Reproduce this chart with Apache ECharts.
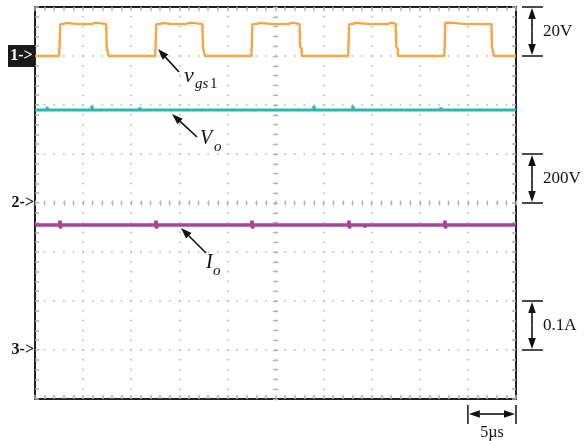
<!DOCTYPE html>
<html><head><meta charset="utf-8">
<script src="https://cdn.jsdelivr.net/npm/echarts@6/dist/echarts.min.js"></script>
<style>html,body{margin:0;padding:0;background:#fff}#c{width:585px;height:441px}</style>
</head><body><div id="c"></div>
<script>
// Time axis: 10 divisions of 5 µs; vertical: 8 divisions
const timeRange = [0, 50];
const timeStep = 5;
const divRange = [-4, 4];
// channel settings (units per division, ground offset in divisions)
const ch1 = {scale: 20, offset: 3};
const ch2 = {scale: 200, offset: 0};
const ch3 = {scale: 0.1, offset: -3};
const channelLabels = ['1->', '2->', '3->'];
const scaleLabels = ['20V', '200V', '0.1A'];
const timeLabel = '5\u00b5s';

// v_gs1 (V) vs time (µs)
const vgsData = [
 [0,0],[1.5,0],[1.55,0.4],[1.65,0],[2.5,0],[2.58,6],[2.62,13],[2.9,13],[2.95,13.5],[3.3,13.5],[3.35,13],[4.4,13],[4.45,13.5],[4.55,13],[5.0,13],[5.05,13.5],[5.15,13],[5.9,13],[5.95,13.6],[6.3,13.6],[6.35,13],[7.4,13],[7.45,4],[7.6,3.4],[7.65,0],[9.0,0],[9.05,0.4],[9.15,0],[11.2,0],[11.25,0.4],[11.35,0],[12.5,0],
 [12.55,6],[12.6,13],[12.9,13],[12.95,13.5],[13.4,13.5],[13.45,13],[14.2,13],[14.25,13.5],[14.35,13],[15.6,13],[15.65,13.6],[16.2,13.6],[16.25,13],[17.4,13],[17.45,4],[17.6,3.2],[17.65,0],[19.6,0],[19.65,0.4],[19.75,0],[21.8,0],[21.85,0.4],[21.95,0],[22.5,0],
 [22.55,6],[22.6,13],[23.0,13],[23.05,13.5],[23.4,13.5],[23.45,13],[24.6,13],[24.65,13.5],[24.75,13],[26.3,13],[26.35,13.6],[26.8,13.6],[26.85,13],[27.5,13],[27.55,4],[27.7,3],[27.75,0],[29.8,0],[29.85,0.4],[29.95,0],[32.55,0],
 [32.6,6],[32.65,13],[33.0,13],[33.05,13.5],[33.3,13.5],[33.35,13],[34.9,13],[34.95,13.5],[35.05,13],[35.6,13],[35.65,13.5],[35.75,13],[36.6,13],[36.65,13.6],[37.1,13.6],[37.15,13],[37.5,13],[37.55,4],[37.7,3],[37.75,0],[39.3,0],[39.35,0.4],[39.45,0],[42.55,0],
 [42.6,6],[42.65,13.6],[43.3,13.6],[43.35,13],[44.6,13],[44.65,13.5],[44.75,13],[45.4,13],[45.45,13.5],[45.55,13],[46.4,13],[46.45,13.5],[46.55,13],[47.45,13],[47.5,4],[47.65,3.3],[47.7,0],[48.6,0],[48.65,0.5],[48.75,0],[50,0]
];
// V_o (V)
const voData = [
 [0,380],[1.2,380],[1.25,392],[1.3,380],[5.87,380],[5.92,396],[5.97,380],[9.5,380],[9.56,388],[9.62,380],[10.35,380],[10.4,386],[10.45,380],[10.85,380],[10.9,390],[10.95,380],
 [20.75,380],[20.8,372],[20.85,380],[22.3,380],[22.35,372],[22.4,380],[28.35,380],[28.4,388],[28.45,380],[28.95,380],[29.0,396],[29.05,380],[33.0,380],[33.05,396],[33.1,380],
 [42.15,380],[42.2,390],[42.25,380],[48.6,380],[48.65,372],[48.7,380],[50,380]
];
// I_o (A)
const ioData = [
 [0,0.255],[2.55,0.255],[2.6,0.264],[2.65,0.248],[2.7,0.255],[7.5,0.255],[7.55,0.251],[7.6,0.255],
 [12.53,0.255],[12.58,0.264],[12.63,0.248],[12.68,0.255],[17.5,0.255],[17.55,0.252],[17.6,0.255],
 [22.51,0.255],[22.56,0.264],[22.61,0.248],[22.66,0.255],[27.6,0.255],[27.65,0.251],[27.7,0.255],
 [32.59,0.255],[32.64,0.264],[32.69,0.248],[32.74,0.255],[34.25,0.255],[34.3,0.25],[34.35,0.255],
 [42.57,0.255],[42.62,0.264],[42.67,0.248],[42.72,0.255],[47.6,0.255],[47.65,0.251],[47.7,0.255],[50,0.255]
];

const toDiv = (data, ch) => data.map(p => [p[0], p[1] / ch.scale + ch.offset]);

const G = {left: 35, top: 7, width: 481, height: 392};
const tickCol = '#b0b0b0';
const font = 'Liberation Serif';

function xAx(o) {
  return Object.assign({
    type: 'value', min: timeRange[0], max: timeRange[1], interval: timeStep,
    axisLabel: {show: false},
    axisLine: {show: true, onZero: false, lineStyle: {color: '#222', width: 2}},
    axisTick: {show: true, inside: true, length: 4, lineStyle: {color: tickCol, width: 1.5}},
    minorTick: {show: true, splitNumber: 5, length: 4, lineStyle: {color: tickCol, width: 1.5}},
    splitLine: {show: false}
  }, o);
}
function yAx(o) {
  return Object.assign({
    type: 'value', min: divRange[0], max: divRange[1], interval: 1,
    axisLabel: {show: false},
    axisLine: {show: true, onZero: false, lineStyle: {color: '#222', width: 2}},
    axisTick: {show: true, inside: true, length: 4, lineStyle: {color: tickCol, width: 1.5}},
    minorTick: {show: true, splitNumber: 5, length: 4, lineStyle: {color: tickCol, width: 1.5}},
    splitLine: {show: false}
  }, o);
}
const noLine = {show: false, onZero: false};
const cTick = (inside) => ({show: true, inside, length: 2.5, lineStyle: {color: tickCol, width: 1.3}});
const cMinor = {show: true, splitNumber: 5, length: 2.5, lineStyle: {color: tickCol, width: 1.3}};

const chart = echarts.init(document.getElementById('c'), null, {renderer: 'canvas'});

function arrow(x1, y1, x2, y2) {
  const dx = x2 - x1, dy = y2 - y1, L = Math.hypot(dx, dy), ux = dx / L, uy = dy / L;
  const hl = 11, hw = 3.8;
  const bx = x2 - ux * hl, by = y2 - uy * hl;
  return [
    {type: 'line', shape: {x1, y1, x2: bx, y2: by}, style: {stroke: '#111', lineWidth: 1.6}, z: 10},
    {type: 'polygon', shape: {points: [[x2, y2], [bx - uy * hw, by + ux * hw], [bx + uy * hw, by - ux * hw]]}, style: {fill: '#111'}, z: 10}
  ];
}
function txt(x, y, s, size, o) {
  return {type: 'text', x, y, z: 10, style: Object.assign({text: s, fontFamily: font, fontSize: size, fill: '#111', align: 'left', verticalAlign: 'middle'}, o || {})};
}

chart.setOption({
  animation: false,
  backgroundColor: '#fff',
  grid: Object.assign({outerBoundsMode: 'none', containLabel: false}, G),
  xAxis: [
    xAx({position: 'bottom', splitLine: {show: true, lineStyle: {color: '#b8b8b8', width: 1.6, type: [1.6, 8.2], dashOffset: 0.8}}}),
    xAx({position: 'top'}),
    xAx({position: 'bottom', offset: -G.height / 2, axisLine: noLine, axisTick: cTick(true), minorTick: cMinor}),
    xAx({position: 'bottom', offset: -G.height / 2, axisLine: noLine, axisTick: cTick(false), minorTick: cMinor})
  ],
  yAxis: [
    yAx({position: 'left', splitLine: {show: true, lineStyle: {color: '#b8b8b8', width: 1.6, type: [1.6, 8.02], dashOffset: 0.8}}}),
    yAx({position: 'right'}),
    yAx({position: 'left', offset: -G.width / 2, axisLine: noLine, axisTick: cTick(true), minorTick: cMinor}),
    yAx({position: 'left', offset: -G.width / 2, axisLine: noLine, axisTick: cTick(false), minorTick: cMinor})
  ],
  series: [
    {type: 'line', name: 'Vo', data: toDiv(voData, ch2), showSymbol: false, lineStyle: {color: '#2ab8b2', width: 3}, z: 3},
    {type: 'line', name: 'Io', data: toDiv(ioData, ch3), showSymbol: false, lineStyle: {color: '#a4449c', width: 3.5}, z: 3},
    {type: 'line', name: 'vgs1', data: toDiv(vgsData, ch1), showSymbol: false, lineStyle: {color: '#f7a53d', width: 2.4}, z: 4}
  ]
});

// decorations positioned from the axis scales
const px = (t, d) => chart.convertToPixel({xAxisIndex: 0, yAxisIndex: 0}, [t, d]);
const g = [];
[ch1, ch2, ch3].forEach((ch, i) => {
  const y = px(0, ch.offset)[1];
  if (i === 0) {
    g.push({type: 'rect', shape: {x: 8, y: y - 11, width: 27, height: 22}, style: {fill: '#1a1a1a'}, z: 10});
    g.push(txt(21.5, y, channelLabels[i], 16, {fill: '#fff', fontWeight: 'bold', align: 'center'}));
  } else {
    g.push(txt(34, y, channelLabels[i], 16, {fontWeight: 'bold', align: 'right'}));
  }
});
// right-side scale bars (one division each)
const bars = [[4, 3], [1, 0], [-2, -3]];
const barX = 532;
bars.forEach((b, i) => {
  const y1 = px(0, b[0])[1], y2 = px(0, b[1])[1];
  g.push({type: 'line', shape: {x1: 522, y1, x2: 543, y2: y1}, style: {stroke: '#111', lineWidth: 1.5}, z: 10});
  g.push({type: 'line', shape: {x1: 522, y1: y2, x2: 543, y2: y2}, style: {stroke: '#111', lineWidth: 1.5}, z: 10});
  const m = (y1 + y2) / 2;
  g.push(...arrow(barX, m, barX, y1 + 1));
  g.push(...arrow(barX, m, barX, y2 - 1));
  g.push(txt(543, m, scaleLabels[i], 17));
});
// time scale bar (one division)
{
  const xa = px(timeRange[1] - timeStep, 0)[0], xb = px(timeRange[1], 0)[0];
  const yb = 414;
  g.push({type: 'line', shape: {x1: xa, y1: 405, x2: xa, y2: 424}, style: {stroke: '#111', lineWidth: 1.5}, z: 10});
  g.push({type: 'line', shape: {x1: xb, y1: 405, x2: xb, y2: 424}, style: {stroke: '#111', lineWidth: 1.5}, z: 10});
  const m = (xa + xb) / 2;
  g.push(...arrow(m, yb, xa + 1, yb));
  g.push(...arrow(m, yb, xb - 1, yb));
  g.push(txt(m, 433, timeLabel, 16, {align: 'center'}));
}
// waveform labels
g.push(...arrow(179, 72, 158, 49));
g.push(txt(184, 76, 'v', 22, {fontStyle: 'italic'}));
g.push(txt(195, 84, 'gs', 15, {fontStyle: 'italic'}));
g.push(txt(210, 84, '1', 15));
g.push(...arrow(197, 137, 172, 114));
g.push(txt(200, 139, 'V', 20, {fontStyle: 'italic'}));
g.push(txt(214, 147, 'o', 15, {fontStyle: 'italic'}));
g.push(...arrow(206, 253, 181, 228));
g.push(txt(206, 263, 'I', 20, {fontStyle: 'italic'}));
g.push(txt(213, 271, 'o', 15, {fontStyle: 'italic'}));

chart.setOption({graphic: g});
</script>
</body></html>
